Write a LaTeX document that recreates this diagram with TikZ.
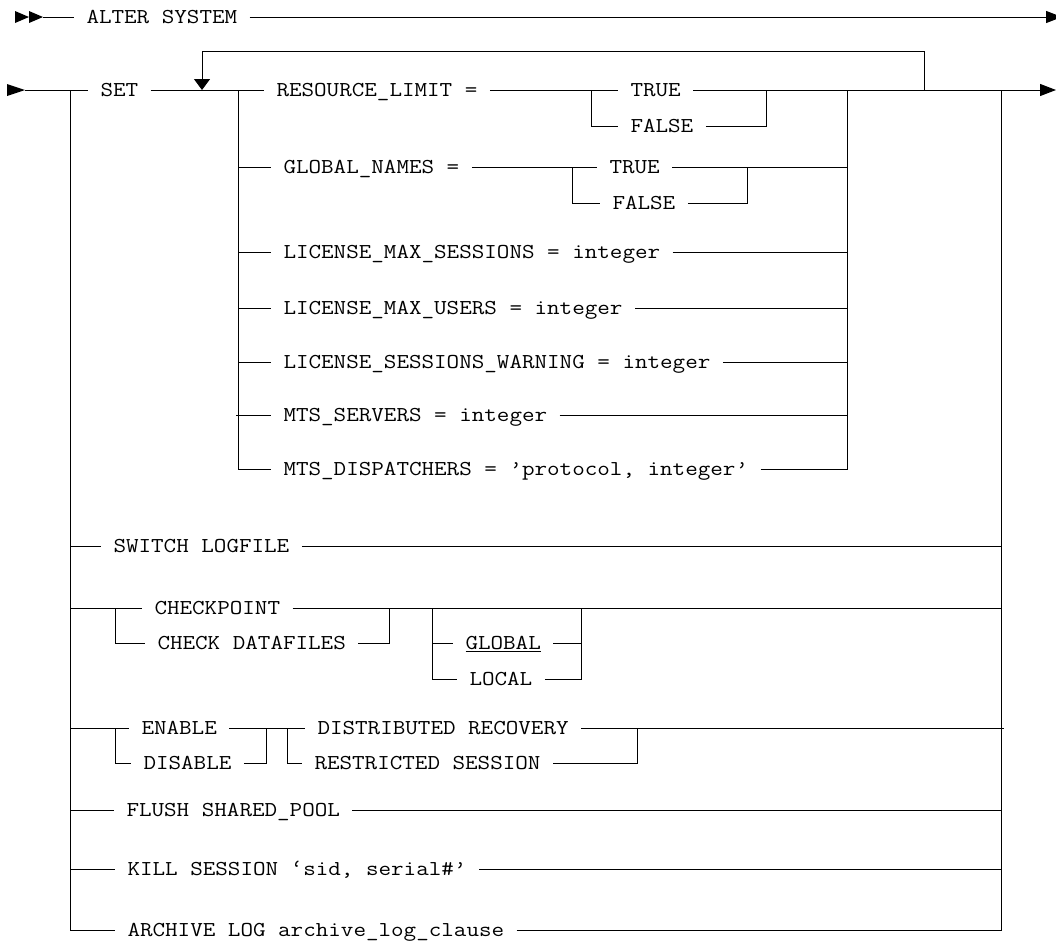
\documentclass[tikz,border=0pt]{standalone}
\usepackage{fontspec}
\setmonofont{Latin Modern Mono}[FakeStretch=1.15]
\usetikzlibrary{arrows.meta}
\newcommand\railfont{\ttfamily\fontsize{21.2}{25}\selectfont}

\begin{document}
\begin{tikzpicture}[x=1pt,y=-1pt,line width=1pt,
  kw/.style={font=\railfont,inner xsep=12pt,inner ysep=0pt,
    text height=13pt,text depth=0pt,anchor=west},
  tip/.style={-{Triangle[length=16pt,width=12pt]}}]
\useasboundingbox (0,0) rectangle (1056,943);
% statement entry
\fill (15,11) -- (29,17) -- (15,23) -- cycle;
\fill (29,11) -- (43,17) -- (29,23) -- cycle;
\coordinate (start0) at (43,17);
\coordinate (end0) at (1062,17);
\node[kw] (alter) at (74,17) {ALTER SYSTEM};
\draw (start0) -- (alter.west);
\draw[tip] (alter.east) -- (end0);
% second line
\fill (7,84) -- (25,90) -- (7,96) -- cycle;
\coordinate (start1) at (25,90);
\coordinate (end1) at (1056,90);
\coordinate (mainsplit) at (70,90);
\coordinate (mainjoin) at (1001,90);
\coordinate (loopin) at (202,90);
\coordinate (looptop) at (202,51);
\coordinate (loopout) at (924,90);
\coordinate (setsplit) at (238,90);
\coordinate (setjoin) at (847,90);
\node[kw] (set) at (88,90) {SET};
\draw (start1) -- (set.west);
\draw (set.east) -- (setsplit);
% SET parameters
\node[kw] (reslim) at (264,90) {RESOURCE\_LIMIT =};
\node[kw] (restrue) at (618,90) {TRUE};
\node[kw] (resfalse) at (618,126) {FALSE};
\coordinate (resbr) at (591,90);
\coordinate (resjn) at (766,90);
\draw (setsplit) -- (reslim.west);
\draw (reslim.east) -- (restrue.west);
\draw[tip] (restrue.east) -- (end1);
\draw (resbr) |- (resfalse.west);
\draw (resfalse.east) -| (resjn);
\draw[-{Triangle[length=11pt,width=16pt]}] (loopout) |- (looptop) -- (loopin);
\node[kw] (gnames) at (271,167) {GLOBAL\_NAMES =};
\node[kw] (gntrue) at (597,167) {TRUE};
\node[kw] (gnfalse) at (600,203) {FALSE};
\coordinate (gnbr) at (572,167);
\coordinate (gnjn) at (747,167);
\draw (setsplit |- gnames.west) -- (gnames.west);
\draw (gnames.east) -- (gntrue.west);
\draw (gntrue.east) -- (setjoin |- gntrue.east);
\draw (gnbr) |- (gnfalse.west);
\draw (gnfalse.east) -| (gnjn);
\node[kw] (maxsess) at (271,252) {LICENSE\_MAX\_SESSIONS = integer};
\node[kw] (maxusers) at (271,308) {LICENSE\_MAX\_USERS = integer};
\node[kw] (sesswarn) at (271,362) {LICENSE\_SESSIONS\_WARNING = integer};
\node[kw] (mtsserv) at (271,415) {MTS\_SERVERS = integer};
\node[kw] (mtsdisp) at (271,469) {MTS\_DISPATCHERS = ’protocol, integer’};
\draw (setsplit |- maxsess.west) -- (maxsess.west);
\draw (setsplit |- maxusers.west) -- (maxusers.west);
\draw (setsplit |- sesswarn.west) -- (sesswarn.west);
\draw (236,415) -- (mtsserv.west);
\draw (setsplit) |- (mtsdisp.west);
\draw (maxsess.east) -- (setjoin |- maxsess.east);
\draw (maxusers.east) -- (setjoin |- maxusers.east);
\draw (sesswarn.east) -- (setjoin |- sesswarn.east);
\draw (mtsserv.east) -- (setjoin |- mtsserv.east);
\draw (mtsdisp.east) -| (setjoin);
% other clauses
\node[kw] (switch) at (101,546) {SWITCH LOGFILE};
\draw (mainsplit |- switch.west) -- (switch.west);
\draw (switch.east) -- (mainjoin |- switch.east);
\node[kw] (chkpt) at (142,608) {CHECKPOINT};
\node[kw] (chkdf) at (145,643) {CHECK DATAFILES};
\coordinate (ckbr) at (115,608);
\coordinate (ckjn) at (389,608);
\draw (mainsplit |- chkpt.west) -- (chkpt.west);
\draw (chkpt.east) -- (mainjoin |- chkpt.east);
\draw (ckbr) |- (chkdf.west);
\draw (chkdf.east) -| (ckjn);
\node[kw] (global) at (453,643) {\underline{GLOBAL}};
\node[kw] (local) at (457,679) {LOCAL};
\coordinate (scbr) at (432,608);
\coordinate (scjn) at (581,608);
\draw (scbr) |- (local.west);
\draw (scbr |- global.west) -- (global.west);
\draw (global.east) -- (scjn |- global.east);
\draw (local.east) -| (scjn);
\node[kw] (enable) at (129,728) {ENABLE};
\node[kw] (disable) at (131,763) {DISABLE};
\node[kw] (distrec) at (305,728) {DISTRIBUTED RECOVERY};
\node[kw] (restsess) at (302,763) {RESTRICTED SESSION};
\coordinate (enbr) at (115,728);
\coordinate (enjn) at (266,728);
\coordinate (drbr) at (287,728);
\coordinate (drjn) at (637,728);
\draw (mainsplit |- enable.west) -- (enable.west);
\draw (enable.east) -- (distrec.west);
\draw (enbr) |- (disable.west);
\draw (disable.east) -| (enjn);
\draw (drbr) |- (restsess.west);
\draw (restsess.east) -| (drjn);
\draw (distrec.east) -- (1004,728);
\node[kw] (flush) at (114,810) {FLUSH SHARED\_POOL};
\node[kw] (kill) at (115,869) {KILL SESSION ‘sid, serial\#’};
\node[kw] (archive) at (115,930) {ARCHIVE LOG archive\_log\_clause};
\draw (mainsplit |- flush.west) -- (flush.west);
\draw (flush.east) -- (mainjoin |- flush.east);
\draw (mainsplit |- kill.west) -- (kill.west);
\draw (kill.east) -- (mainjoin |- kill.east);
\draw (mainsplit) |- (archive.west);
\draw (archive.east) -| (mainjoin);
\end{tikzpicture}
\end{document}
